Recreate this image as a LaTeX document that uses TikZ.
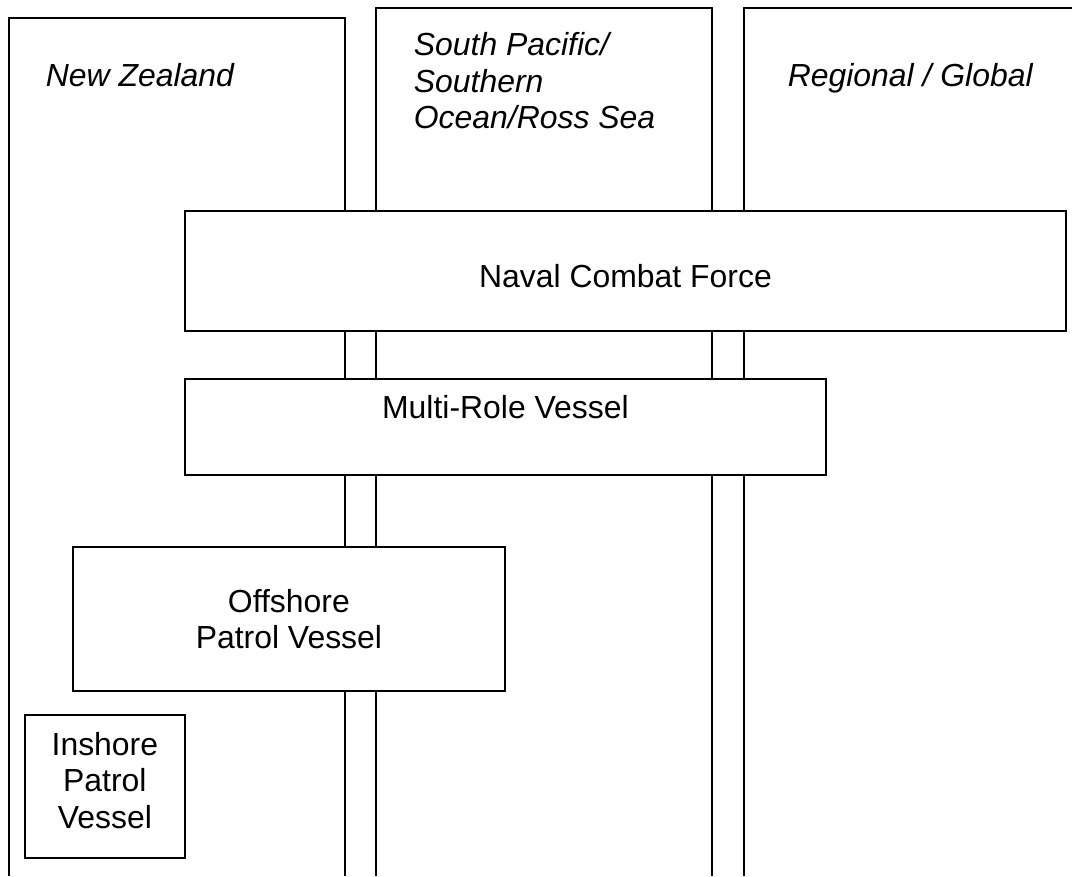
\documentclass[tikz,border=0pt]{standalone}
\usepackage{fontspec}
\setmainfont{Liberation Sans}

\begin{document}
\begin{tikzpicture}[x=0.025cm, y=-0.025cm, line width=1.2pt,
		region/.style={font=\itshape\fontsize{22.7}{25.8}\selectfont, inner sep=0pt},
		force/.style={draw, fill=white, inner sep=0pt, align=center,
			font=\fontsize{22.7}{25.8}\selectfont}]
			\useasboundingbox (0,0) rectangle (1072,876);

			% region columns
			\draw (9,876) -- (9,18) -- (345,18) -- (345,876) ;
			\draw (376,876) -- (376,8) -- (712,8) -- (712,876) ;
			\draw (744,876) -- (744,8) -- (1072,8) ;

			% region labels
			\node[region, anchor=base west] (nz) at (45,86) {New Zealand} ;
			\node[region, anchor=north west, align=left] (sp) at (413,32) {South Pacific/\\Southern\\Ocean/Ross Sea} ;
			\node[region, anchor=base west] (rg) at (787,86) {Regional / Global} ;

			% force elements
			\node[force, anchor=north west, minimum width=22.025cm, text height=1.925cm, text depth=1.075cm] (ncf) at (184,210) {Naval Combat Force} ;
			\node[force, anchor=north west, minimum width=16.025cm, text height=1cm, text depth=1.4cm] (mrv) at (184,378) {Multi-Role Vessel} ;
			\node[force, anchor=north west, minimum width=10.8cm, minimum height=3.6cm] (opv) at (72,546) {Offshore\\Patrol Vessel} ;
			\node[force, anchor=north west, minimum width=4cm, minimum height=3.575cm, text depth=0.3cm] (ipv) at (24,714) {Inshore\\Patrol\\Vessel} ;

		\end{tikzpicture}
\end{document}
